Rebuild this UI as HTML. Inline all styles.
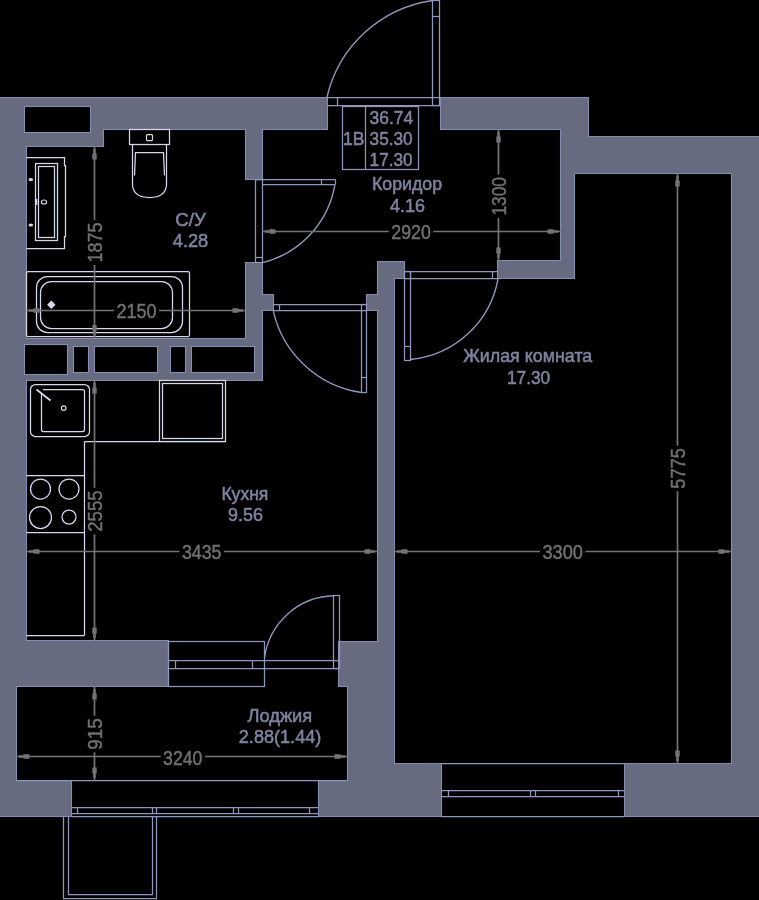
<!DOCTYPE html>
<html><head><meta charset="utf-8">
<style>
html,body{margin:0;padding:0;background:#000;width:759px;height:900px;overflow:hidden}
svg{display:block;will-change:transform}
text{font-family:"Liberation Sans",sans-serif;text-anchor:middle}
.t{font-size:19px;fill:#7f839e;stroke:#7f839e;stroke-width:0.55px}
.d{font-size:19.6px;fill:#717171;stroke:#717171;stroke-width:0.45px}
</style></head><body>
<svg width="759" height="900" viewBox="0 0 759 900">
<rect width="759" height="900" fill="#000"/>
<polygon points="-10,97.5 327.5,97.5 327.5,129.5 262.5,129.5 262.5,179.5 245.5,179.5 245.5,129.5 103.5,129.5 103.5,146.5 26.5,146.5 26.5,338.5 245.5,338.5 245.5,262.5 262.5,262.5 262.5,294.5 273.5,294.5 273.5,310.5 262.5,310.5 262.5,380.5 26.5,380.5 26.5,640.5 168.5,640.5 168.5,686.5 16.5,686.5 16.5,780.5 71.5,780.5 71.5,816.5 -10,816.5" fill="#676b80" stroke="#868cb2" stroke-width="1.1"/>
<rect x="24.5" y="106.5" width="66" height="26" fill="#000" stroke="#868cb2" stroke-width="1.1"/>
<rect x="24.5" y="344.5" width="43" height="30" fill="#000" stroke="#868cb2" stroke-width="1.1"/>
<rect x="73.5" y="346.5" width="15" height="26" fill="#000" stroke="#868cb2" stroke-width="1.1"/>
<rect x="94.5" y="346.5" width="63" height="26" fill="#000" stroke="#868cb2" stroke-width="1.1"/>
<rect x="170.5" y="346.5" width="15" height="26" fill="#000" stroke="#868cb2" stroke-width="1.1"/>
<rect x="191.5" y="346.5" width="63" height="26" fill="#000" stroke="#868cb2" stroke-width="1.1"/>
<polygon points="377.5,261.5 404.5,261.5 404.5,278.5 394.5,278.5 394.5,763.5 441.5,763.5 441.5,816.5 318.5,816.5 318.5,780.5 347.5,780.5 347.5,686.5 338.5,686.5 338.5,641.5 377.5,641.5 377.5,310.5 366.5,310.5 366.5,294.5 377.5,294.5" fill="#676b80" stroke="#868cb2" stroke-width="1.1"/>
<polygon points="440.5,97.5 588.5,97.5 588.5,136.5 770,136.5 770,816.5 624.5,816.5 624.5,763.5 731.5,763.5 731.5,173.5 574.5,173.5 574.5,278.5 497.5,278.5 497.5,260.5 560.5,260.5 560.5,129.5 440.5,129.5" fill="#676b80" stroke="#868cb2" stroke-width="1.1"/>
<line x1="441.5" y1="790.5" x2="624.5" y2="790.5" stroke="#9096bc" stroke-width="1.25"/>
<line x1="441.5" y1="796.5" x2="624.5" y2="796.5" stroke="#9096bc" stroke-width="1.25"/>
<line x1="441.5" y1="816.5" x2="624.5" y2="816.5" stroke="#9096bc" stroke-width="1.25"/>
<line x1="441.5" y1="763.5" x2="624.5" y2="763.5" stroke="#9096bc" stroke-width="1.25"/>
<line x1="448.5" y1="790.5" x2="448.5" y2="796.5" stroke="#9096bc" stroke-width="1.25"/>
<line x1="530.5" y1="790.5" x2="530.5" y2="796.5" stroke="#9096bc" stroke-width="1.25"/>
<line x1="535.5" y1="790.5" x2="535.5" y2="796.5" stroke="#9096bc" stroke-width="1.25"/>
<line x1="618.5" y1="790.5" x2="618.5" y2="796.5" stroke="#9096bc" stroke-width="1.25"/>
<rect x="168.5" y="641.5" width="96" height="45" fill="none" stroke="#9096bc" stroke-width="1.25"/>
<line x1="168.5" y1="660.5" x2="338.5" y2="660.5" stroke="#9096bc" stroke-width="1.25"/>
<line x1="168.5" y1="668.5" x2="338.5" y2="668.5" stroke="#9096bc" stroke-width="1.25"/>
<line x1="175.5" y1="660.5" x2="175.5" y2="668.5" stroke="#9096bc" stroke-width="1.25"/>
<line x1="252.5" y1="660.5" x2="252.5" y2="668.5" stroke="#9096bc" stroke-width="1.25"/>
<line x1="71.5" y1="807.5" x2="318.5" y2="807.5" stroke="#9096bc" stroke-width="1.25"/>
<line x1="71.5" y1="813.5" x2="318.5" y2="813.5" stroke="#9096bc" stroke-width="1.25"/>
<line x1="71.5" y1="816.5" x2="318.5" y2="816.5" stroke="#9096bc" stroke-width="1.25"/>
<line x1="16.5" y1="780.5" x2="347.5" y2="780.5" stroke="#9096bc" stroke-width="1.25"/>
<line x1="77.5" y1="807.5" x2="77.5" y2="813.5" stroke="#9096bc" stroke-width="1.25"/>
<line x1="152.5" y1="807.5" x2="152.5" y2="813.5" stroke="#9096bc" stroke-width="1.25"/>
<line x1="156.5" y1="807.5" x2="156.5" y2="813.5" stroke="#9096bc" stroke-width="1.25"/>
<line x1="233.5" y1="807.5" x2="233.5" y2="813.5" stroke="#9096bc" stroke-width="1.25"/>
<line x1="238.5" y1="807.5" x2="238.5" y2="813.5" stroke="#9096bc" stroke-width="1.25"/>
<line x1="309.5" y1="807.5" x2="309.5" y2="813.5" stroke="#9096bc" stroke-width="1.25"/>
<path d="M63.5,816.5 V898.5 H156.5 V816.5" fill="none" stroke="#9096bc" stroke-width="1.25"/>
<path d="M68.5,816.5 V894.5 H152.5 V816.5" fill="none" stroke="#9096bc" stroke-width="1.25"/>
<line x1="327.5" y1="97.5" x2="440.5" y2="97.5" stroke="#9096bc" stroke-width="1.25"/>
<line x1="327.5" y1="105.5" x2="440.5" y2="105.5" stroke="#9096bc" stroke-width="1.25"/>
<line x1="337.5" y1="97.5" x2="337.5" y2="105.5" stroke="#9096bc" stroke-width="1.25"/>
<rect x="432.5" y="0.5" width="7" height="105" fill="none" stroke="#9096bc" stroke-width="1.25"/>
<line x1="432.5" y1="16.5" x2="439.5" y2="16.5" stroke="#9096bc" stroke-width="1.25"/>
<path d="M326.95,97.37 A126.7,126.7 0 0 1 432.43,0.48" fill="none" stroke="#9096bc" stroke-width="1.4"/>
<rect x="255.5" y="179.5" width="7" height="83" fill="none" stroke="#9096bc" stroke-width="1.25"/>
<line x1="255.5" y1="179.5" x2="335.5" y2="179.5" stroke="#9096bc" stroke-width="1.25"/>
<line x1="262.5" y1="184.5" x2="335.5" y2="184.5" stroke="#9096bc" stroke-width="1.25"/>
<line x1="335.5" y1="179.5" x2="335.5" y2="184.5" stroke="#9096bc" stroke-width="1.25"/>
<line x1="321.5" y1="179.5" x2="321.5" y2="184.5" stroke="#9096bc" stroke-width="1.25"/>
<line x1="255.5" y1="257.5" x2="262.5" y2="257.5" stroke="#9096bc" stroke-width="1.25"/>
<path d="M334.87,184.89 A97.2,97.2 0 0 1 262.53,262.63" fill="none" stroke="#9096bc" stroke-width="1.4"/>
<line x1="273.5" y1="304.5" x2="366.5" y2="304.5" stroke="#9096bc" stroke-width="1.25"/>
<line x1="273.5" y1="310.5" x2="366.5" y2="310.5" stroke="#9096bc" stroke-width="1.25"/>
<line x1="279.5" y1="304.5" x2="279.5" y2="310.5" stroke="#9096bc" stroke-width="1.25"/>
<rect x="361.5" y="304.5" width="5" height="88" fill="none" stroke="#9096bc" stroke-width="1.25"/>
<line x1="361.5" y1="377.5" x2="366.5" y2="377.5" stroke="#9096bc" stroke-width="1.25"/>
<path d="M273.30,311.05 A106.5,106.5 0 0 0 361.49,392.55" fill="none" stroke="#9096bc" stroke-width="1.4"/>
<line x1="404.5" y1="271.5" x2="497.5" y2="271.5" stroke="#9096bc" stroke-width="1.25"/>
<line x1="404.5" y1="278.5" x2="497.5" y2="278.5" stroke="#9096bc" stroke-width="1.25"/>
<line x1="410.5" y1="271.5" x2="410.5" y2="278.5" stroke="#9096bc" stroke-width="1.25"/>
<line x1="492.5" y1="271.5" x2="492.5" y2="278.5" stroke="#9096bc" stroke-width="1.25"/>
<rect x="404.5" y="271.5" width="6" height="89" fill="none" stroke="#9096bc" stroke-width="1.25"/>
<line x1="404.5" y1="346.5" x2="410.5" y2="346.5" stroke="#9096bc" stroke-width="1.25"/>
<path d="M498.09,278.60 A98.6,98.6 0 0 1 410.41,359.55" fill="none" stroke="#9096bc" stroke-width="1.4"/>
<rect x="333.5" y="595.5" width="6" height="73" fill="none" stroke="#9096bc" stroke-width="1.25"/>
<path d="M333.51,595.82 A71.4,71.4 0 0 0 264.50,658.00" fill="none" stroke="#9096bc" stroke-width="1.4"/>
<path d="M26.5,157.5 H64.5 V165.5 H65.5 V236.5 H64.5 V248.5 H26.5" fill="none" stroke="#d6d8ec" stroke-width="1.25"/>
<rect x="35.5" y="163.5" width="22" height="77" fill="none" stroke="#d6d8ec" stroke-width="1.25"/>
<rect x="38.5" y="166.5" width="16" height="71" fill="none" stroke="#d6d8ec" stroke-width="1.25"/>
<ellipse cx="30.8" cy="179.6" rx="2.3" ry="1.6" fill="#d6d8ec"/>
<ellipse cx="30.8" cy="225" rx="2.3" ry="1.6" fill="#d6d8ec"/>
<ellipse cx="44" cy="202" rx="2.6" ry="2" fill="none" stroke="#d6d8ec" stroke-width="1.2"/>
<line x1="36.5" y1="199" x2="36.5" y2="205" stroke="#d6d8ec" stroke-width="1.6"/>
<rect x="129.5" y="129.5" width="40" height="15" fill="none" stroke="#d6d8ec" stroke-width="1.25"/>
<rect x="146.5" y="134.5" width="6" height="6" rx="1" fill="none" stroke="#d6d8ec" stroke-width="1.25"/>
<path d="M132.5,144.5 V185 Q133.5,197.5 149.5,197.5 Q165.5,197.5 166.5,185 V144.5" fill="none" stroke="#d6d8ec" stroke-width="1.25"/>
<path d="M134.5,175.5 L135.5,152.5 H163.5 L164.5,175.5" fill="none" stroke="#d6d8ec" stroke-width="1.25"/>
<rect x="26.5" y="271.5" width="163" height="65" rx="1.5" fill="none" stroke="#d6d8ec" stroke-width="1.25"/>
<rect x="36.5" y="276.5" width="146" height="56" rx="11" fill="none" stroke="#d6d8ec" stroke-width="1.25"/>
<rect x="40.5" y="281.5" width="132" height="47" rx="11" fill="none" stroke="#d6d8ec" stroke-width="1.25"/>
<polygon points="51.3,300.6 55.5,304.8 51.3,309 47.1,304.8" fill="#d6d8ec"/>
<rect x="30.5" y="384.5" width="59" height="52" rx="5" fill="none" stroke="#d6d8ec" stroke-width="1.25"/>
<path d="M41.5,394 V429.5 Q41.5,431.5 43.5,431.5 H82.5 Q84.5,431.5 84.5,429.5 V391.5 Q84.5,389.5 82.5,389.5 H43" fill="none" stroke="#d6d8ec" stroke-width="1.25"/>
<line x1="36.5" y1="389.5" x2="50.5" y2="400.5" stroke="#d6d8ec" stroke-width="1.8"/>
<circle cx="63.7" cy="408.1" r="2.3" fill="none" stroke="#d6d8ec" stroke-width="1.2"/>
<rect x="159.5" y="380.5" width="66" height="61" fill="none" stroke="#d6d8ec" stroke-width="1.25"/>
<rect x="162.5" y="383.5" width="60" height="55" fill="none" stroke="#d6d8ec" stroke-width="1.25"/>
<line x1="84.5" y1="441.5" x2="84.5" y2="635.5" stroke="#d6d8ec" stroke-width="1.25"/>
<line x1="84.5" y1="441.5" x2="225.5" y2="441.5" stroke="#d6d8ec" stroke-width="1.25"/>
<line x1="26.5" y1="635.5" x2="84.5" y2="635.5" stroke="#d6d8ec" stroke-width="1.25"/>
<line x1="26.5" y1="475.5" x2="84.5" y2="475.5" stroke="#d6d8ec" stroke-width="1.25"/>
<line x1="26.5" y1="532.5" x2="84.5" y2="532.5" stroke="#d6d8ec" stroke-width="1.25"/>
<circle cx="40.5" cy="489" r="10" fill="none" stroke="#d6d8ec" stroke-width="1.25"/>
<circle cx="69" cy="489" r="10" fill="none" stroke="#d6d8ec" stroke-width="1.25"/>
<circle cx="40.5" cy="517.5" r="11" fill="none" stroke="#d6d8ec" stroke-width="1.25"/>
<circle cx="69" cy="517" r="7" fill="none" stroke="#d6d8ec" stroke-width="1.25"/>
<rect x="342.5" y="106.5" width="76" height="63" fill="none" stroke="#9096bc" stroke-width="1.25"/>
<line x1="365.5" y1="106.5" x2="365.5" y2="169.5" stroke="#9096bc" stroke-width="1.25"/>
<line x1="26.5" y1="310.5" x2="245.5" y2="310.5" stroke="#747474" stroke-width="1.7"/>
<polygon points="26.50,310.00 26.50,311.00 29.00,311.00 29.00,311.70 33.50,311.70 33.50,312.70 39.50,312.70 39.50,308.30 33.50,308.30 33.50,309.30 29.00,309.30 29.00,310.00" fill="#747474"/>
<polygon points="245.50,310.00 245.50,311.00 243.00,311.00 243.00,311.70 238.50,311.70 238.50,312.70 232.50,312.70 232.50,308.30 238.50,308.30 238.50,309.30 243.00,309.30 243.00,310.00" fill="#747474"/>
<rect x="114.1" y="301.5" width="45" height="18" fill="#000"/>
<text x="136.6" y="318.20" textLength="40" lengthAdjust="spacingAndGlyphs" class="d">2150</text>
<line x1="94.5" y1="146.5" x2="94.5" y2="338" stroke="#747474" stroke-width="1.7"/>
<polygon points="94.00,146.50 95.00,146.50 95.00,149.00 95.70,149.00 95.70,153.50 96.70,153.50 96.70,159.50 92.30,159.50 92.30,153.50 93.30,153.50 93.30,149.00 94.00,149.00" fill="#747474"/>
<polygon points="94.00,338.00 95.00,338.00 95.00,335.50 95.70,335.50 95.70,331.00 96.70,331.00 96.70,325.00 92.30,325.00 92.30,331.00 93.30,331.00 93.30,335.50 94.00,335.50" fill="#747474"/>
<rect x="85.5" y="219.95" width="18" height="45" fill="#000"/>
<text x="101.95" y="242.45" transform="rotate(-90 101.95 242.45)" textLength="40" lengthAdjust="spacingAndGlyphs" class="d">1875</text>
<line x1="94.5" y1="380.5" x2="94.5" y2="640.5" stroke="#747474" stroke-width="1.7"/>
<polygon points="94.00,380.50 95.00,380.50 95.00,383.00 95.70,383.00 95.70,387.50 96.70,387.50 96.70,393.50 92.30,393.50 92.30,387.50 93.30,387.50 93.30,383.00 94.00,383.00" fill="#747474"/>
<polygon points="94.00,640.50 95.00,640.50 95.00,638.00 95.70,638.00 95.70,633.50 96.70,633.50 96.70,627.50 92.30,627.50 92.30,633.50 93.30,633.50 93.30,638.00 94.00,638.00" fill="#747474"/>
<rect x="85.5" y="487.85" width="18" height="46.5" fill="#000"/>
<text x="102.05" y="511.1" transform="rotate(-90 102.05 511.1)" textLength="41.5" lengthAdjust="spacingAndGlyphs" class="d">2555</text>
<line x1="26.5" y1="551.5" x2="377.5" y2="551.5" stroke="#747474" stroke-width="1.7"/>
<polygon points="26.50,551.00 26.50,552.00 29.00,552.00 29.00,552.70 33.50,552.70 33.50,553.70 39.50,553.70 39.50,549.30 33.50,549.30 33.50,550.30 29.00,550.30 29.00,551.00" fill="#747474"/>
<polygon points="377.50,551.00 377.50,552.00 375.00,552.00 375.00,552.70 370.50,552.70 370.50,553.70 364.50,553.70 364.50,549.30 370.50,549.30 370.50,550.30 375.00,550.30 375.00,551.00" fill="#747474"/>
<rect x="179.45" y="542.5" width="44.5" height="18" fill="#000"/>
<text x="201.7" y="559.30" textLength="39.5" lengthAdjust="spacingAndGlyphs" class="d">3435</text>
<line x1="94.5" y1="686.5" x2="94.5" y2="780.5" stroke="#747474" stroke-width="1.7"/>
<polygon points="94.00,686.50 95.00,686.50 95.00,689.00 95.70,689.00 95.70,693.50 96.70,693.50 96.70,699.50 92.30,699.50 92.30,693.50 93.30,693.50 93.30,689.00 94.00,689.00" fill="#747474"/>
<polygon points="94.00,780.50 95.00,780.50 95.00,778.00 95.70,778.00 95.70,773.50 96.70,773.50 96.70,767.50 92.30,767.50 92.30,773.50 93.30,773.50 93.30,778.00 94.00,778.00" fill="#747474"/>
<rect x="85.5" y="715.8" width="18" height="36.5" fill="#000"/>
<text x="101.90" y="734.05" transform="rotate(-90 101.90 734.05)" textLength="31.5" lengthAdjust="spacingAndGlyphs" class="d">915</text>
<line x1="16.5" y1="756.5" x2="347.5" y2="756.5" stroke="#747474" stroke-width="1.7"/>
<polygon points="16.50,756.00 16.50,757.00 19.00,757.00 19.00,757.70 23.50,757.70 23.50,758.70 29.50,758.70 29.50,754.30 23.50,754.30 23.50,755.30 19.00,755.30 19.00,756.00" fill="#747474"/>
<polygon points="347.50,756.00 347.50,757.00 345.00,757.00 345.00,757.70 340.50,757.70 340.50,758.70 334.50,758.70 334.50,754.30 340.50,754.30 340.50,755.30 345.00,755.30 345.00,756.00" fill="#747474"/>
<rect x="160.6" y="747.5" width="44.3" height="18" fill="#000"/>
<text x="182.75" y="764.50" textLength="39.3" lengthAdjust="spacingAndGlyphs" class="d">3240</text>
<line x1="262.5" y1="231.5" x2="560.5" y2="231.5" stroke="#747474" stroke-width="1.7"/>
<polygon points="262.50,231.00 262.50,232.00 265.00,232.00 265.00,232.70 269.50,232.70 269.50,233.70 275.50,233.70 275.50,229.30 269.50,229.30 269.50,230.30 265.00,230.30 265.00,231.00" fill="#747474"/>
<polygon points="560.50,231.00 560.50,232.00 558.00,232.00 558.00,232.70 553.50,232.70 553.50,233.70 547.50,233.70 547.50,229.30 553.50,229.30 553.50,230.30 558.00,230.30 558.00,231.00" fill="#747474"/>
<rect x="388.8" y="222.5" width="44.5" height="18" fill="#000"/>
<text x="411.05" y="239.40" textLength="39.5" lengthAdjust="spacingAndGlyphs" class="d">2920</text>
<line x1="498.5" y1="129.5" x2="498.5" y2="260.5" stroke="#747474" stroke-width="1.7"/>
<polygon points="498.00,129.50 499.00,129.50 499.00,132.00 499.70,132.00 499.70,136.50 500.70,136.50 500.70,142.50 496.30,142.50 496.30,136.50 497.30,136.50 497.30,132.00 498.00,132.00" fill="#747474"/>
<polygon points="498.00,260.50 499.00,260.50 499.00,258.00 499.70,258.00 499.70,253.50 500.70,253.50 500.70,247.50 496.30,247.50 496.30,253.50 497.30,253.50 497.30,258.00 498.00,258.00" fill="#747474"/>
<rect x="489.5" y="174.55" width="18" height="43.5" fill="#000"/>
<text x="505.85" y="196.3" transform="rotate(-90 505.85 196.3)" textLength="38.5" lengthAdjust="spacingAndGlyphs" class="d">1300</text>
<line x1="394.5" y1="551.5" x2="731.5" y2="551.5" stroke="#747474" stroke-width="1.7"/>
<polygon points="394.50,551.00 394.50,552.00 397.00,552.00 397.00,552.70 401.50,552.70 401.50,553.70 407.50,553.70 407.50,549.30 401.50,549.30 401.50,550.30 397.00,550.30 397.00,551.00" fill="#747474"/>
<polygon points="731.50,551.00 731.50,552.00 729.00,552.00 729.00,552.70 724.50,552.70 724.50,553.70 718.50,553.70 718.50,549.30 724.50,549.30 724.50,550.30 729.00,550.30 729.00,551.00" fill="#747474"/>
<rect x="539.9499999999999" y="542.5" width="45.4" height="18" fill="#000"/>
<text x="562.65" y="559.15" textLength="40.4" lengthAdjust="spacingAndGlyphs" class="d">3300</text>
<line x1="677.5" y1="173.5" x2="677.5" y2="763.5" stroke="#747474" stroke-width="1.7"/>
<polygon points="677.00,173.50 678.00,173.50 678.00,176.00 678.70,176.00 678.70,180.50 679.70,180.50 679.70,186.50 675.30,186.50 675.30,180.50 676.30,180.50 676.30,176.00 677.00,176.00" fill="#747474"/>
<polygon points="677.00,763.50 678.00,763.50 678.00,761.00 678.70,761.00 678.70,756.50 679.70,756.50 679.70,750.50 675.30,750.50 675.30,756.50 676.30,756.50 676.30,761.00 677.00,761.00" fill="#747474"/>
<rect x="668.5" y="445.7" width="18" height="45.5" fill="#000"/>
<text x="685.40" y="468.45" transform="rotate(-90 685.40 468.45)" textLength="40.5" lengthAdjust="spacingAndGlyphs" class="d">5775</text>
<text x="353.75" y="144.70" textLength="21.5" lengthAdjust="spacingAndGlyphs" class="t">1В</text>
<text x="391.45" y="123.65" textLength="43.7" lengthAdjust="spacingAndGlyphs" class="t">36.74</text>
<text x="391.1" y="144.70" textLength="43" lengthAdjust="spacingAndGlyphs" class="t">35.30</text>
<text x="391.1" y="165.85" textLength="43" lengthAdjust="spacingAndGlyphs" class="t">17.30</text>
<text x="407" y="189.75" textLength="70" lengthAdjust="spacingAndGlyphs" class="t">Коридор</text>
<text x="407.4" y="211.90" textLength="35" lengthAdjust="spacingAndGlyphs" class="t">4.16</text>
<text x="190.55" y="225.80" textLength="30.5" lengthAdjust="spacingAndGlyphs" class="t">С/У</text>
<text x="190.5" y="246.70" textLength="35.5" lengthAdjust="spacingAndGlyphs" class="t">4.28</text>
<text x="244.9" y="499.75" textLength="47" lengthAdjust="spacingAndGlyphs" class="t">Кухня</text>
<text x="245.5" y="520.80" textLength="34.8" lengthAdjust="spacingAndGlyphs" class="t">9.56</text>
<text x="527.8" y="361.75" textLength="129" lengthAdjust="spacingAndGlyphs" class="t">Жилая комната</text>
<text x="528.55" y="383.90" textLength="43.3" lengthAdjust="spacingAndGlyphs" class="t">17.30</text>
<text x="279.85" y="721.75" textLength="64.8" lengthAdjust="spacingAndGlyphs" class="t">Лоджия</text>
<text x="280.05" y="743.00" textLength="82.5" lengthAdjust="spacingAndGlyphs" class="t">2.88(1.44)</text>
</svg>
</body></html>
